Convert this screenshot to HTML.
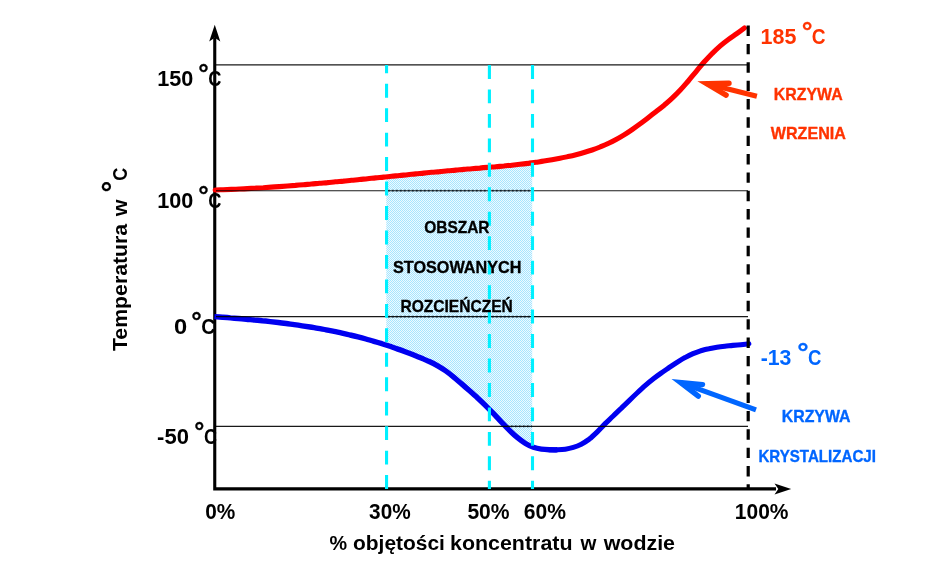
<!DOCTYPE html>
<html lang="pl">
<head>
<meta charset="utf-8">
<title>Krzywa wrzenia i krystalizacji</title>
<style>
html,body{margin:0;padding:0;background:#fff;}
body{width:945px;height:582px;overflow:hidden;}
svg{display:block;}
svg text{font-family:"Liberation Sans",sans-serif;font-weight:bold;}
</style>
</head>
<body>
<svg width="945" height="582" viewBox="0 0 945 582">
<defs>
<pattern id="dots" x="0" y="0" width="2" height="2" patternUnits="userSpaceOnUse">
<rect x="0" y="0" width="2" height="2" fill="#eefaff"/>
<rect x="0" y="0" width="1" height="1" fill="#a6e5ff"/>
<rect x="1" y="1" width="1" height="1" fill="#a6e5ff"/>
</pattern>
</defs>
<rect x="0" y="0" width="945" height="582" fill="#ffffff"/>
<!-- axes -->
<path d="M214.75 38 L214.75 488.9 L776 488.9" stroke="#000" stroke-width="3.1" fill="none" stroke-linejoin="miter"/>
<path d="M214.75 24.7 L220.3 41.6 L214.75 37.8 L209.2 41.6 Z" fill="#000"/>
<path d="M791.2 488.9 L774.5 494.4 L778.3 488.9 L774.5 483.4 Z" fill="#000"/>
<!-- shaded area -->
<path d="M386.3 176.8 L391.6 176.3 L399.6 175.5 L407.6 174.7 L415.7 173.9 L423.7 173.1 L431.7 172.3 L439.7 171.6 L447.7 170.8 L455.7 170.1 L463.8 169.4 L471.8 168.7 L479.8 168.1 L487.8 167.4 L495.8 166.7 L503.9 166.0 L511.9 165.2 L519.9 164.3 L527.9 163.4 L532.2 162.8 L532.2 446.7 L525.5 443.5 L517.5 437.7 L509.5 430.4 L501.5 422.2 L493.6 413.7 L485.6 405.6 L477.6 398.0 L469.6 390.8 L461.7 383.9 L453.7 377.1 L445.7 370.9 L437.7 365.8 L429.8 361.8 L421.8 358.3 L413.8 355.1 L405.8 352.0 L397.9 349.1 L389.9 346.3 L386.3 345.1 Z" fill="url(#dots)"/>
<!-- curves -->
<path d="M215.2 190.0 C216.5 189.9 220.5 189.8 223.2 189.7 C225.9 189.6 228.6 189.5 231.2 189.4 C233.9 189.3 236.6 189.2 239.3 189.0 C241.9 188.9 244.6 188.8 247.3 188.6 C249.9 188.5 252.6 188.3 255.3 188.2 C258.0 188.0 260.6 187.8 263.3 187.7 C266.0 187.5 268.7 187.3 271.3 187.1 C274.0 187.0 276.7 186.8 279.3 186.6 C282.0 186.4 284.7 186.2 287.4 186.0 C290.0 185.8 292.7 185.6 295.4 185.4 C298.1 185.1 300.7 184.9 303.4 184.7 C306.1 184.5 308.7 184.2 311.4 184.0 C314.1 183.8 316.8 183.5 319.4 183.3 C322.1 183.1 324.8 182.8 327.5 182.6 C330.1 182.3 332.8 182.1 335.5 181.8 C338.1 181.6 340.8 181.3 343.5 181.1 C346.2 180.8 348.8 180.6 351.5 180.3 C354.2 180.0 356.9 179.8 359.5 179.5 C362.2 179.2 364.9 179.0 367.5 178.7 C370.2 178.4 372.9 178.2 375.6 177.9 C378.2 177.6 380.9 177.4 383.6 177.1 C386.3 176.8 388.9 176.6 391.6 176.3 C394.3 176.0 396.9 175.8 399.6 175.5 C402.3 175.2 405.0 175.0 407.6 174.7 C410.3 174.4 413.0 174.2 415.7 173.9 C418.3 173.6 421.0 173.4 423.7 173.1 C426.3 172.9 429.0 172.6 431.7 172.3 C434.4 172.1 437.0 171.8 439.7 171.6 C442.4 171.3 445.1 171.1 447.7 170.8 C450.4 170.6 453.1 170.3 455.7 170.1 C458.4 169.9 461.1 169.6 463.8 169.4 C466.4 169.2 469.1 168.9 471.8 168.7 C474.5 168.5 477.1 168.3 479.8 168.1 C482.5 167.8 485.1 167.6 487.8 167.4 C490.5 167.2 493.2 166.9 495.8 166.7 C498.5 166.5 501.2 166.2 503.9 166.0 C506.5 165.7 509.2 165.5 511.9 165.2 C514.5 164.9 517.2 164.6 519.9 164.3 C522.6 164.0 525.2 163.7 527.9 163.4 C530.6 163.0 533.3 162.7 535.9 162.3 C538.6 161.9 541.3 161.6 543.9 161.1 C546.6 160.7 549.3 160.3 552.0 159.8 C554.6 159.3 557.3 158.8 560.0 158.3 C562.7 157.8 565.3 157.2 568.0 156.6 C570.7 156.0 573.3 155.4 576.0 154.7 C578.7 154.0 581.4 153.3 584.0 152.5 C586.7 151.7 589.4 150.9 592.1 150.0 C594.7 149.1 597.4 148.1 600.1 147.0 C602.7 145.9 605.4 144.8 608.1 143.5 C610.8 142.3 613.4 141.0 616.1 139.5 C618.8 138.1 621.5 136.5 624.1 134.9 C626.8 133.2 629.5 131.4 632.1 129.6 C634.8 127.7 637.5 125.8 640.2 123.8 C642.8 121.8 645.5 119.8 648.2 117.7 C650.9 115.6 653.5 113.6 656.2 111.5 C658.9 109.4 661.5 107.4 664.2 105.2 C666.9 102.9 669.6 100.7 672.2 98.2 C674.9 95.7 677.6 93.0 680.3 90.1 C682.9 87.3 685.6 84.1 688.3 81.0 C690.9 77.9 693.6 74.5 696.3 71.3 C699.0 68.1 701.6 64.8 704.3 61.8 C707.0 58.8 709.7 56.0 712.3 53.3 C715.0 50.7 717.7 48.2 720.3 45.9 C723.0 43.6 725.7 41.5 728.4 39.5 C731.0 37.5 733.7 35.8 736.4 33.9 C739.1 32.0 743.1 29.0 744.4 28.0" fill="none" stroke="#ff0000" stroke-width="5.1" stroke-linecap="round" stroke-linejoin="round"/>
<path d="M214.4 316.6 C215.7 316.7 219.7 317.0 222.4 317.2 C225.0 317.4 227.7 317.6 230.4 317.9 C233.0 318.1 235.7 318.3 238.3 318.5 C241.0 318.8 243.6 319.0 246.3 319.2 C249.0 319.5 251.6 319.7 254.3 320.0 C256.9 320.2 259.6 320.5 262.3 320.8 C264.9 321.0 267.6 321.3 270.2 321.6 C272.9 321.9 275.6 322.2 278.2 322.5 C280.9 322.9 283.5 323.2 286.2 323.5 C288.8 323.9 291.5 324.2 294.2 324.6 C296.8 325.0 299.5 325.4 302.1 325.8 C304.8 326.2 307.5 326.6 310.1 327.0 C312.8 327.5 315.4 327.9 318.1 328.4 C320.7 328.9 323.4 329.3 326.1 329.8 C328.7 330.4 331.4 330.9 334.0 331.4 C336.7 332.0 339.4 332.5 342.0 333.1 C344.7 333.7 347.3 334.3 350.0 335.0 C352.7 335.6 355.3 336.2 358.0 336.9 C360.6 337.6 363.3 338.3 365.9 339.0 C368.6 339.8 371.3 340.5 373.9 341.3 C376.6 342.1 379.2 342.9 381.9 343.7 C384.6 344.6 387.2 345.4 389.9 346.3 C392.5 347.2 395.2 348.1 397.9 349.1 C400.5 350.0 403.2 351.0 405.8 352.0 C408.5 353.0 411.1 354.0 413.8 355.1 C416.5 356.2 419.1 357.2 421.8 358.3 C424.4 359.4 427.1 360.5 429.8 361.8 C432.4 363.0 435.1 364.3 437.7 365.8 C440.4 367.3 443.0 369.0 445.7 370.9 C448.4 372.8 451.0 374.9 453.7 377.1 C456.3 379.2 459.0 381.6 461.7 383.9 C464.3 386.2 467.0 388.5 469.6 390.8 C472.3 393.2 475.0 395.6 477.6 398.0 C480.3 400.5 482.9 402.9 485.6 405.6 C488.2 408.2 490.9 410.9 493.6 413.7 C496.2 416.5 498.9 419.4 501.5 422.2 C504.2 425.0 506.9 427.8 509.5 430.4 C512.2 433.0 514.8 435.5 517.5 437.7 C520.2 439.9 522.8 441.9 525.5 443.5 C528.1 445.1 530.8 446.4 533.4 447.3 C536.1 448.2 538.8 448.7 541.4 449.1 C544.1 449.5 546.7 449.6 549.4 449.7 C552.1 449.8 554.7 449.9 557.4 449.8" fill="none" stroke="#0000f0" stroke-width="5.4" stroke-linecap="butt" stroke-linejoin="round"/>
<path d="M549.4 449.7 C552.1 449.8 554.7 449.9 557.4 449.8 C560.0 449.7 562.7 449.6 565.3 449.2 C568.0 448.8 570.7 448.2 573.3 447.4 C576.0 446.6 578.6 445.6 581.3 444.2 C584.0 442.8 586.6 441.1 589.3 439.1 C591.9 437.0 594.6 434.4 597.3 431.8 C599.9 429.2 602.6 426.2 605.2 423.6 C607.9 421.0 610.5 418.6 613.2 416.0 C615.9 413.5 618.5 410.9 621.2 408.4 C623.8 405.8 626.5 403.2 629.2 400.6 C631.8 398.0 634.5 395.4 637.1 393.0 C639.8 390.5 642.5 388.0 645.1 385.7 C647.8 383.4 650.4 381.2 653.1 379.1 C655.7 377.0 658.4 375.1 661.1 373.2 C663.7 371.3 666.4 369.5 669.0 367.7 C671.7 365.9 674.4 364.1 677.0 362.4 C679.7 360.7 682.3 359.0 685.0 357.6 C687.6 356.1 690.3 354.8 693.0 353.6 C695.6 352.5 698.3 351.6 700.9 350.7 C703.6 349.9 706.3 349.2 708.9 348.7 C711.6 348.1 714.2 347.6 716.9 347.2 C719.6 346.8 722.2 346.5 724.9 346.2 C727.5 345.9 730.2 345.7 732.8 345.4 C735.5 345.2 738.2 345.0 740.8 344.7 C743.5 344.4 747.5 343.9 748.8 343.7" fill="none" stroke="#0000f0" stroke-width="5.1" stroke-linecap="round" stroke-linejoin="round"/>
<!-- grid lines -->
<g stroke="#000" stroke-opacity="0.9" stroke-width="1.15" fill="none">
<line x1="216" y1="64.85" x2="748" y2="64.85"/>
<line x1="216" y1="190.7" x2="748" y2="190.7"/>
<line x1="216" y1="316.6" x2="748" y2="316.6"/>
<line x1="216" y1="426.4" x2="748" y2="426.4"/>
</g>
<g stroke="#00101c" stroke-opacity="0.8" stroke-width="1.7" fill="none" stroke-dasharray="1.6 2.4">
<line x1="388" y1="190.7" x2="532" y2="190.7"/>
<line x1="388" y1="316.6" x2="532" y2="316.6"/>
<line x1="507" y1="426.4" x2="532" y2="426.4"/>
</g>
<!-- cyan dashed guides -->
<g stroke="#00f0ff" stroke-width="3.1" fill="none" stroke-dasharray="13.9 10.56">
<line x1="386.55" y1="489" x2="386.55" y2="65"/>
<line x1="489.4" y1="65" x2="489.4" y2="489"/>
<line x1="532.5" y1="65" x2="532.5" y2="489"/>
</g>
<!-- 100% dashed line -->
<line x1="748.2" y1="25.6" x2="748.2" y2="489" stroke="#000" stroke-width="3.2" stroke-dasharray="10.4 7.95"/>
<!-- arrows -->
<g fill="none" stroke="#ff3300" stroke-width="5.1" stroke-miterlimit="10">
<line x1="756.9" y1="96.3" x2="707.1" y2="83.75"/>
<path d="M729 83.3 L706.9 83.7 L726.1 95.1" stroke-width="5.4" stroke-linecap="round" stroke-linejoin="miter"/>
</g>
<g fill="none" stroke="#0066ff" stroke-width="5.1" stroke-miterlimit="10">
<line x1="756" y1="409.8" x2="680.8" y2="382.6"/>
<path d="M702.5 384.6 L680.6 382.5 L698.3 396.1" stroke-width="5.4" stroke-linecap="round" stroke-linejoin="miter"/>
</g>
<!-- labels -->
<text><tspan x="157.3" y="86.4" font-size="21.3" textLength="36.1" lengthAdjust="spacingAndGlyphs">150</tspan> <tspan x="198.3" y="82.2" font-size="25.6" textLength="10.5" lengthAdjust="spacingAndGlyphs" stroke="#000" stroke-width="0.3">°</tspan><tspan x="208.2" y="86.4" font-size="21.3" textLength="13.2" lengthAdjust="spacingAndGlyphs">C</tspan></text>
<text><tspan x="157.3" y="208.1" font-size="21.3" textLength="36.1" lengthAdjust="spacingAndGlyphs">100</tspan> <tspan x="198.3" y="203.9" font-size="25.6" textLength="10.5" lengthAdjust="spacingAndGlyphs" stroke="#000" stroke-width="0.3">°</tspan><tspan x="208.2" y="208.1" font-size="21.3" textLength="13.2" lengthAdjust="spacingAndGlyphs">C</tspan></text>
<text><tspan x="174.0" y="334.1" font-size="21.3" textLength="13.2" lengthAdjust="spacingAndGlyphs">0</tspan> <tspan x="191.3" y="329.9" font-size="25.6" textLength="10.5" lengthAdjust="spacingAndGlyphs" stroke="#000" stroke-width="0.3">°</tspan><tspan x="201.2" y="334.1" font-size="21.3" textLength="14.2" lengthAdjust="spacingAndGlyphs">C</tspan></text>
<text><tspan x="157.1" y="443.9" font-size="21.3" textLength="31.8" lengthAdjust="spacingAndGlyphs">-50</tspan> <tspan x="194.3" y="439.7" font-size="25.6" textLength="10.1" lengthAdjust="spacingAndGlyphs" stroke="#000" stroke-width="0.3">°</tspan><tspan x="204.1" y="443.9" font-size="21.3" textLength="13.1" lengthAdjust="spacingAndGlyphs">C</tspan></text>
<text><tspan x="760.6" y="44.1" font-size="21.3" textLength="35.8" lengthAdjust="spacingAndGlyphs" fill="#ff3300">185</tspan> <tspan x="801.7" y="39.9" font-size="25.6" textLength="10.8" lengthAdjust="spacingAndGlyphs" fill="#ff3300" stroke="#ff3300" stroke-width="0.3">°</tspan><tspan x="811.7" y="44.1" font-size="21.3" textLength="13.8" lengthAdjust="spacingAndGlyphs" fill="#ff3300">C</tspan></text>
<text><tspan x="760.7" y="365.3" font-size="21.3" textLength="30.7" lengthAdjust="spacingAndGlyphs" fill="#0066ff">-13</tspan> <tspan x="797.3" y="361.1" font-size="25.6" textLength="11.4" lengthAdjust="spacingAndGlyphs" fill="#0066ff" stroke="#0066ff" stroke-width="0.3">°</tspan><tspan x="808.0" y="365.3" font-size="21.3" textLength="13.4" lengthAdjust="spacingAndGlyphs" fill="#0066ff">C</tspan></text>
<text x="205.2" y="518.6" font-size="21.3" textLength="30.1" lengthAdjust="spacingAndGlyphs">0%</text>
<text x="369.1" y="518.6" font-size="21.3" textLength="41.6" lengthAdjust="spacingAndGlyphs">30%</text>
<text x="467.4" y="518.6" font-size="21.3" textLength="42.2" lengthAdjust="spacingAndGlyphs">50%</text>
<text x="523.7" y="518.6" font-size="21.3" textLength="42.2" lengthAdjust="spacingAndGlyphs">60%</text>
<text x="734.8" y="518.6" font-size="21.3" textLength="53.7" lengthAdjust="spacingAndGlyphs">100%</text>
<text><tspan x="329.6" y="549.7" font-size="20.3" textLength="17.6" lengthAdjust="spacingAndGlyphs">%</tspan> <tspan x="353.0" y="549.7" font-size="20.3" textLength="91.9" lengthAdjust="spacingAndGlyphs">objętości</tspan> <tspan x="450.0" y="549.7" font-size="20.3" textLength="122.5" lengthAdjust="spacingAndGlyphs">koncentratu</tspan> <tspan x="580.4" y="549.7" font-size="20.3" textLength="15.9" lengthAdjust="spacingAndGlyphs">w</tspan> <tspan x="603.7" y="549.7" font-size="20.3" textLength="71.3" lengthAdjust="spacingAndGlyphs">wodzie</tspan></text>
<g transform="translate(126.7 350.8) rotate(-90)"><text><tspan x="-0.3" y="0.0" font-size="20.0" textLength="127.3" lengthAdjust="spacingAndGlyphs">Temperatura</tspan> <tspan x="134.6" y="0.0" font-size="20.0" textLength="16.8" lengthAdjust="spacingAndGlyphs">w</tspan> <tspan x="158.3" y="-3.9" font-size="29.0" textLength="11.7" lengthAdjust="spacingAndGlyphs" stroke="#000" stroke-width="0.15">°</tspan><tspan x="170.0" y="0.0" font-size="21.0" textLength="13.1" lengthAdjust="spacingAndGlyphs">C</tspan></text></g>
<text><tspan x="773.8" y="99.5" font-size="17.0" textLength="68.9" lengthAdjust="spacingAndGlyphs" fill="#ff3300" stroke="#ff3300" stroke-width="0.35" stroke-linejoin="round">KRZYWA</tspan> <tspan x="770.8" y="138.6" font-size="17.0" textLength="75.1" lengthAdjust="spacingAndGlyphs" fill="#ff3300" stroke="#ff3300" stroke-width="0.35" stroke-linejoin="round">WRZENIA</tspan></text>
<text><tspan x="781.7" y="421.7" font-size="17.0" textLength="68.9" lengthAdjust="spacingAndGlyphs" fill="#0066ff" stroke="#0066ff" stroke-width="0.35" stroke-linejoin="round">KRZYWA</tspan> <tspan x="758.4" y="461.6" font-size="17.0" textLength="117.6" lengthAdjust="spacingAndGlyphs" fill="#0066ff" stroke="#0066ff" stroke-width="0.35" stroke-linejoin="round">KRYSTALIZACJI</tspan></text>
<text><tspan x="424.2" y="233.4" font-size="17.0" textLength="65.3" lengthAdjust="spacingAndGlyphs" stroke="#000" stroke-width="0.35" stroke-linejoin="round">OBSZAR</tspan> <tspan x="393.0" y="272.8" font-size="17.0" textLength="128.4" lengthAdjust="spacingAndGlyphs" stroke="#000" stroke-width="0.35" stroke-linejoin="round">STOSOWANYCH</tspan> <tspan x="400.5" y="312.0" font-size="17.0" textLength="112.3" lengthAdjust="spacingAndGlyphs" stroke="#000" stroke-width="0.35" stroke-linejoin="round">ROZCIEŃCZEŃ</tspan></text>
</svg>
</body>
</html>
